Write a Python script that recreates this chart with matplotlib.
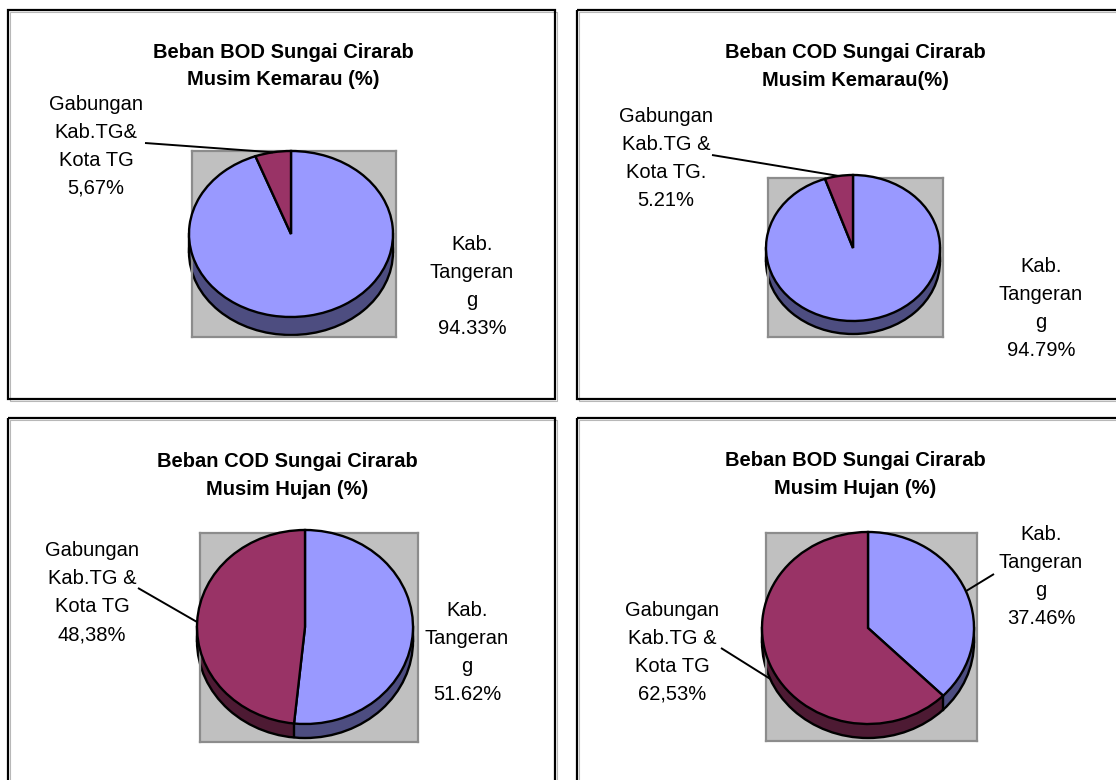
import numpy as np
import matplotlib
matplotlib.use("Agg")
import matplotlib.pyplot as plt
from matplotlib.patches import Rectangle, Circle
from matplotlib.lines import Line2D

plt.rcParams['font.family'] = ['Liberation Sans', 'DejaVu Sans']

# ---- data -------------------------------------------------------------
titles = [
    "Beban BOD Sungai Cirarab\nMusim Kemarau (%)",
    "Beban COD Sungai Cirarab\nMusim Kemarau(%)",
    "Beban COD Sungai Cirarab\nMusim Hujan (%)",
    "Beban BOD Sungai Cirarab\nMusim Hujan (%)",
]
share_kab = [94.33, 94.79, 51.62, 37.46]   # Kab. Tangerang
share_gab = [5.67, 5.21, 48.38, 62.53]     # Gabungan Kab.TG & Kota TG
kab_name = "Kab.\nTangeran\ng"
gab_names = [
    "Gabungan\nKab.TG&\nKota TG",
    "Gabungan\nKab.TG &\nKota TG.",
    "Gabungan\nKab.TG &\nKota TG",
    "Gabungan\nKab.TG &\nKota TG",
]
gab_decimal = [",", ".", ",", ","]

# ---- styling / layout (pixels) ----------------------------------------
W, H = 1116, 780
TOP_COLORS = ["#9999FF", "#993366"]
SIDE_COLORS = ["#4D4D80", "#4D1A33"]

panels = [(8, 10, 555, 399), (577, 10, 1125, 399),
          (8, 418, 555, 790), (577, 418, 1125, 790)]
title_pos = [(283, 66), (855, 66.5), (287, 475.5), (855, 474.5)]
# plot box (gray area) and top-face ellipse: centre, radii, depth
boxes = [(192, 151, 396, 337), (768, 178, 943, 337),
         (200, 533, 418, 742), (766, 533, 977, 741)]
faces = [(291, 234, 102, 83, 18), (853, 248, 87, 73, 13),
         (305, 627, 108, 97, 14), (868, 628, 106, 96, 14)]
kab_pos = [(472, 287), (1041, 308), (467, 653), (1041, 577)]
gab_pos = [(96, 146), (666, 158), (92, 593), (672, 652)]
kab_leader = [None, None, None, (994, 574)]
gab_leader = [(145, 143), (712, 155), (138, 588), (721, 648)]

FS = 14.5
LS_TITLE = 1.57
LS_LABEL = 1.60
EDGE_LW = 1.7

fig = plt.figure(figsize=(W / 100, H / 100), dpi=100)
fig.patch.set_facecolor("white")


def px_axes(x0, y0, x1, y1, **kw):
    return fig.add_axes([x0 / W, 1 - y1 / H, (x1 - x0) / W, (y1 - y0) / H], **kw)


ov = px_axes(0, 0, W, H, zorder=10)
ov.set_xlim(0, W)
ov.set_ylim(H, 0)
ov.axis("off")
ov.patch.set_alpha(0)

for i in range(4):
    # panel frame with a faint shadow
    x0, y0, x1, y1 = panels[i]
    ov.add_patch(Rectangle((x0 + 2, y0 + 2), x1 - x0, y1 - y0, fill=False,
                           ec="#B8B8B8", lw=0.8, clip_on=False))
    ov.add_patch(Rectangle((x0, y0), x1 - x0, y1 - y0, fill=False,
                           ec="black", lw=1.6, clip_on=False))

    # gray plot area with the tilted pie
    bx0, by0, bx1, by1 = boxes[i]
    cx, cy, rx, ry, dep = faces[i]
    ax = px_axes(bx0, by0, bx1, by1, zorder=5)
    vals = [share_kab[i], share_gab[i]]
    d = dep / ry

    n = 30
    for k in range(n, 0, -1):
        wedges, _ = ax.pie(vals, colors=SIDE_COLORS, startangle=90,
                           counterclock=False, center=(0, -d * k / n),
                           wedgeprops=dict(linewidth=0, edgecolor="none"))
        for w in wedges:
            w.set_clip_on(False)
            w.set_zorder(1)
    ax.add_patch(Circle((0, -d), 1, fill=False, ec="black", lw=EDGE_LW,
                        clip_on=False, zorder=2))
    # vertical edges of the side: at the rim extremes and at slice borders in front
    fr = np.cumsum([0] + vals) / np.sum(vals)
    angles = np.deg2rad(90 - 360 * fr)
    for a in list(angles) + [0, np.pi]:
        if np.sin(a) <= 1e-9:
            ax.add_line(Line2D([np.cos(a)] * 2, [np.sin(a), np.sin(a) - d],
                               color="black", lw=EDGE_LW, clip_on=False, zorder=2))

    wedges, _ = ax.pie(vals, colors=TOP_COLORS, startangle=90,
                       counterclock=False,
                       wedgeprops=dict(linewidth=EDGE_LW, edgecolor="black"))
    for w in wedges:
        w.set_clip_on(False)
        w.set_zorder(3)

    ax.set_aspect("auto")
    ax.set_xlim((bx0 - cx) / rx, (bx1 - cx) / rx)
    ax.set_ylim((cy - by1) / ry, (cy - by0) / ry)
    ax.set_frame_on(True)
    ax.set_xticks([])
    ax.set_yticks([])
    ax.set_facecolor("#C0C0C0")
    for s in ax.spines.values():
        s.set_color("#8C8C8C")
        s.set_linewidth(1.6)

    # title
    tx, ty = title_pos[i]
    ov.text(tx, ty, titles[i], ha="center", va="center", ma="center",
            fontsize=FS, fontweight="bold", linespacing=LS_TITLE)

    # data labels
    kab_txt = f"{kab_name}\n{share_kab[i]:.2f}%"
    gab_txt = f"{gab_names[i]}\n" + f"{share_gab[i]:.2f}".replace(".", gab_decimal[i]) + "%"
    ov.text(*kab_pos[i], kab_txt, ha="center", va="center", ma="center",
            fontsize=FS, linespacing=LS_LABEL)
    ov.text(*gab_pos[i], gab_txt, ha="center", va="center", ma="center",
            fontsize=FS, linespacing=LS_LABEL)

    # leader lines to the middle of each slice rim
    mids = np.deg2rad(90 - 360 * (fr[:-1] + fr[1:]) / 2)
    for start, a in ((kab_leader[i], mids[0]), (gab_leader[i], mids[1])):
        if start is None:
            continue
        ex = cx + rx * np.cos(a)
        ey = cy - ry * np.sin(a) + (dep if np.sin(a) < 0 else 0)
        ov.plot([start[0], ex], [start[1], ey], color="black", lw=1.4,
                solid_capstyle="butt")

fig.savefig("out.png", dpi=100, facecolor="white")
